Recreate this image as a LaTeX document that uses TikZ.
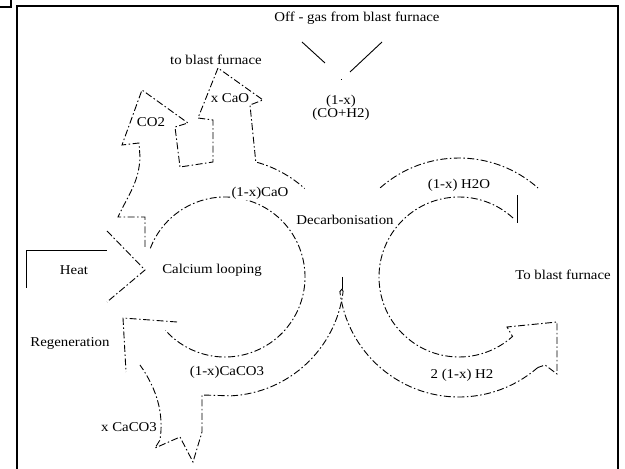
\documentclass[tikz,border=0pt]{standalone}
\usepackage{fontspec}
\setmainfont{Liberation Serif}[FakeStretch=1.1]
\begin{document}
\begin{tikzpicture}[x=1pt,y=1pt,
  brk/.style={line width=0.9pt, dash pattern=on 7pt off 2.5pt on 1.5pt off 2.5pt},
  solidln/.style={line width=0.9pt},
  framing/.style={line width=2pt},
  lbl/.style={font=\fontsize{13.5}{14}\selectfont, inner sep=1pt, align=center}]
\useasboundingbox (0,0) rectangle (625,469);
% frame
\draw[framing] (17,0) -- (17,463) -- (618,463) -- (618,0);
\draw[framing] (0,462) -- (11,462) -- (11,469);
\coordinate (L) at (225,192);
\coordinate (R) at (459,192);
\coordinate (C) at (342,180);
% left cycle inner arc
\draw[brk] (L) ++(159:80pt) arc[start angle=159, end angle=-138, radius=80pt];
% left cycle: heat join and CO2 / x CaO outlets
\draw[brk] (145,222) -- (145,252) -- (118,252) to[out=65,in=-92] (140,312) -- (139,326)
  -- (122,324) -- (142,379) -- (188,346) -- (175,342) -- (180,302) -- (213,307)
  -- (213,349) -- (198,351) -- (218,401) -- (263,369) -- (250,364) -- (255.8,307)
  arc[start angle=75, end angle=48, radius=119pt];
% left cycle outer bottom + x CaCO3 outlet
\draw[brk] (C) -- ([shift={(-7:119pt)}]L) arc[start angle=-7, end angle=-87, radius=119pt]
  -- (202,74) -- (202,37) -- (193,7) -- (180,32) -- (155,21) -- (160,29)
  .. controls (164,55) and (157,80) .. (140,104);
\draw[solidln] (342,192) -- (C);
% regeneration bracket
\draw[brk] (177,147) -- (123,151) -- (126,97);
% heat arrow
\draw[solidln] (26,181) -- (26,219) -- (107,219);
\draw[brk] (107,238) -- (145,199) -- (107,167);
% right cycle
\draw[brk] (R) ++(47.5:80pt) arc[start angle=47.5, end angle=312, radius=80pt]
  -- (507,142) -- (557,147) -- (557,95) -- (545,104) -- ([shift={(311:120pt)}]R);
\draw[brk] (C) -- ([shift={(187:120pt)}]R) arc[start angle=187, end angle=311, radius=120pt];
\draw[brk] (R) ++(131.5:119pt) arc[start angle=131.5, end angle=48.4, radius=119pt];
\draw[solidln] (517,246) -- (517,274);
% off-gas inlet
\draw[solidln] (302,427) -- (325,406);
\draw[solidln] (382,427) -- (350,397);
\draw[solidln] (341,389.5) -- (341,388.5);
% labels
\node[lbl] (offgas) at (357,451) {Off - gas from blast furnace};
\node[lbl, font=\fontsize{13.5}{12}\selectfont] (feed) at (341,361.5) {(1-x)\\(CO+H2)};
\node[lbl] (toblast) at (216,409) {to blast furnace};
\node[lbl] (co2) at (151,347) {CO2};
\node[lbl] (xcao) at (230,371) {x CaO};
\node[lbl, fill=white] (cao) at (260,276) {(1-x)CaO};
\node[lbl] (decarb) at (345,249) {Decarbonisation};
\node[lbl] (h2o) at (459,284) {(1-x) H2O};
\node[lbl] (calc) at (212,199) {Calcium looping};
\node[lbl] (heat) at (74,199) {Heat};
\node[lbl] (regen) at (70,126) {Regeneration};
\node[lbl] (caco3) at (227,97) {(1-x)CaCO3};
\node[lbl] (xcaco3) at (129,42) {x CaCO3};
\node[lbl] (toblastr) at (563,194) {To blast furnace};
\node[lbl] (h2) at (462,94) {2 (1-x) H2};
\end{tikzpicture}
\end{document}
